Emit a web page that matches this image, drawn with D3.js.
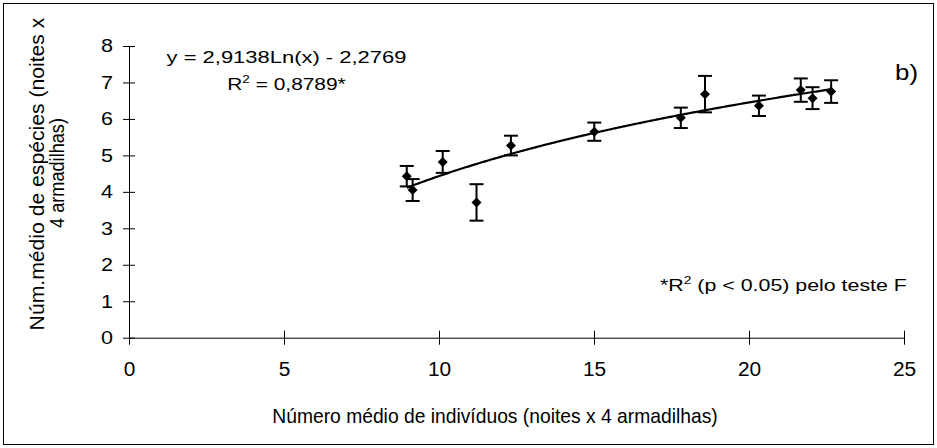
<!DOCTYPE html>
<html>
<head>
<meta charset="utf-8">
<script src="https://cdnjs.cloudflare.com/ajax/libs/d3/7.8.5/d3.min.js"></script>
<style>
	body { margin: 0; background: #fff; }
	text { font-family: "Liberation Sans", Arial, sans-serif; fill: #000; }
</style>
</head>
<body>
<svg id="chart" width="937" height="448"></svg>
<script>
// values
const indiv   = [8.96, 9.15, 10.12, 11.21, 12.32, 15.01, 17.80, 18.58, 20.32, 21.67, 22.05, 22.65];
const especies = [4.43, 4.05, 4.82, 3.71, 5.27, 5.65, 6.03, 6.68, 6.36, 6.79, 6.57, 6.75];
const erro    = [0.28, 0.30, 0.30, 0.50, 0.27, 0.25, 0.28, 0.50, 0.28, 0.32, 0.30, 0.31];
const xTicks = [0, 5, 10, 15, 20, 25];
const yTicks = [0, 1, 2, 3, 4, 5, 6, 7, 8];
// log trend given on the chart
const coefA = 2.9138, coefB = -2.2769;

const svg = d3.select("#chart");

// the original text is wider than Arial, so stretch each label to its width
function fit(t, tx, ty, w, rot) {
	const bw = t.node().getBBox().width;
	t.attr("transform", `translate(${tx},${ty})` + (rot ? ` rotate(${rot})` : "") + ` scale(${w / bw},1)`);
	return t;
}

// outer frame
svg.append("rect")
	.attr("x", 3.5).attr("y", 3.5)
	.attr("width", 930).attr("height", 441)
	.attr("fill", "none")
	.attr("stroke", "#000")
	.attr("stroke-width", 1);

const x = d3.scaleLinear().domain([0, 25]).range([129, 904]);
const y = d3.scaleLinear().domain([0, 8]).range([337.7, 46]);

// y axis
const gy = svg.append("g")
	.attr("transform", "translate(129,0)")
	.call(d3.axisLeft(y).tickValues(yTicks).tickSizeInner(6).tickSizeOuter(0).tickPadding(10));
gy.selectAll(".tick line").attr("x1", -6).attr("x2", 6);
gy.selectAll("text")
	.style("font-size", "18px")
	.attr("font-family", null)
	.attr("lengthAdjust", "spacingAndGlyphs")
	.attr("textLength", d => 12 * String(d).length);

// x axis
const gx = svg.append("g")
	.attr("transform", `translate(0,${y(0)})`)
	.call(d3.axisBottom(x).tickValues(xTicks).tickSizeInner(7).tickSizeOuter(0).tickPadding(17));
gx.selectAll(".tick line").attr("y1", -7).attr("y2", 7);
gx.selectAll("text")
	.style("font-size", "20px")
	.attr("font-family", null)
	.attr("lengthAdjust", "spacingAndGlyphs")
	.attr("textLength", d => 11.6 * String(d).length);
svg.selectAll(".domain, .tick line").attr("stroke", "#000");

// trend line
const xs = d3.range(d3.min(indiv), d3.max(indiv) + 0.001, 0.05);
svg.append("path")
	.datum(xs)
	.attr("fill", "none")
	.attr("stroke", "#000")
	.attr("stroke-width", 2.2)
	.attr("d", d3.line().x(d => x(d)).y(d => y(coefA * Math.log(d) + coefB)));

// error bars
const pts = indiv.map((d, i) => ({ x: d, y: especies[i], e: erro[i] }));
const bars = svg.append("g").attr("stroke", "#000").attr("stroke-width", 2);
pts.forEach(p => {
	bars.append("line")
		.attr("x1", x(p.x)).attr("x2", x(p.x))
		.attr("y1", y(p.y - p.e)).attr("y2", y(p.y + p.e));
	[p.y - p.e, p.y + p.e].forEach(v => {
		bars.append("line")
			.attr("x1", x(p.x) - 7).attr("x2", x(p.x) + 7)
			.attr("y1", y(v)).attr("y2", y(v));
	});
});

// markers
svg.append("g").selectAll("path")
	.data(pts)
	.join("path")
	.attr("d", d3.symbol(d3.symbolSquare, 50))
	.attr("transform", d => `translate(${x(d.x)},${y(d.y)}) rotate(45)`)
	.attr("fill", "#000");

// equation
const eq = svg.append("text")
	.attr("text-anchor", "middle")
	.style("font-size", "17px")
	.text("y = 2,9138Ln(x) - 2,2769");
fit(eq, 286.5, 63, 240);

const r2 = svg.append("text")
	.attr("text-anchor", "middle")
	.style("font-size", "17px");
r2.append("tspan").text("R");
r2.append("tspan").attr("dy", -7).style("font-size", "11px").text("2");
r2.append("tspan").attr("dy", 7).text(" = 0,8789*");
fit(r2, 286.5, 90, 119);

// footnote
const fn = svg.append("text")
	.style("font-size", "17px");
fn.append("tspan").text("*R");
fn.append("tspan").attr("dy", -7).style("font-size", "11px").text("2");
fn.append("tspan").attr("dy", 7).text(" (p < 0.05) pelo teste F");
fit(fn, 660, 291, 247);

// panel letter
const lb = svg.append("text")
	.style("font-size", "22px")
	.text("b)");
fit(lb, 895, 80, 23);

// axis titles
const xt = svg.append("text")
	.attr("text-anchor", "middle")
	.style("font-size", "20px")
	.text("Número médio de indivíduos (noites x 4 armadilhas)");
fit(xt, 495, 423, 446);

const yt1 = svg.append("text")
	.attr("text-anchor", "middle")
	.style("font-size", "20px")
	.text("Núm.médio de espécies (noites x");
fit(yt1, 44, 174, 313, -90);
const yt2 = svg.append("text")
	.attr("text-anchor", "middle")
	.style("font-size", "20px")
	.text("4 armadilhas)");
fit(yt2, 63.5, 173, 110, -90);
</script>
</body>
</html>
